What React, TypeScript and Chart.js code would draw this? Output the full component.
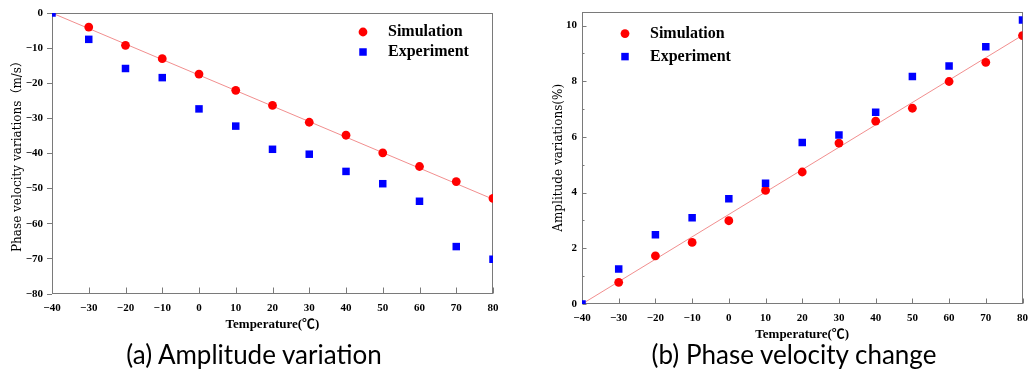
import React, { useEffect, useRef } from 'react';
import { Chart, registerables } from 'chart.js';
Chart.register(...registerables);

// ---- data ----
const temperatures = [-40, -30, -20, -10, 0, 10, 20, 30, 40, 50, 60, 70, 80];
const velocitySimulation = [null, -4, -9.2, -13, -17.4, -22, -26.3, -31.1, -34.8, -39.8, -43.7, -48, -52.8];
const velocityExperiment = [0, -7.5, -15.8, -18.4, -27.3, -32.2, -38.8, -40.2, -45.1, -48.6, -53.6, -66.5, -70.1];
const amplitudeSimulation = [null, 0.78, 1.73, 2.21, 2.99, 4.08, 4.74, 5.78, 6.57, 7.03, 7.99, 8.68, 9.64];
const amplitudeExperiment = [0, 1.26, 2.49, 3.1, 3.78, 4.34, 5.8, 6.07, 6.89, 8.17, 8.55, 9.24, 10.2];
const fitTemperatures = [-40, 80];
const velocityFit = [0, -53];
const amplitudeFit = [0, 9.65];
const amplitudeMinorTicks = [1, 3, 5, 7, 9];
const seriesLabels = ['Experiment', 'Simulation'];
const captions = ['(a) Amplitude variation', '(b) Phase velocity change'];

const SERIF = '"Liberation Serif", "Times New Roman", "Noto Sans CJK SC", serif';
const WIDE_SERIF = '"DejaVu Serif", "Liberation Serif", "Noto Sans CJK SC", serif';
const fmt = (v: number) => (v < 0 ? '\u2212' + Math.abs(v) : String(v));

function pts(xs: number[], ys: (number | null)[]) {
  const out: { x: number; y: number }[] = [];
  xs.forEach((x, i) => {
    const y = ys[i];
    if (y !== null && y !== undefined) out.push({ x, y });
  });
  return out;
}

const framePlugin = {
  id: 'frame',
  beforeDatasetsDraw(chart: any, _args: any, opts: any) {
    const { ctx, chartArea: a, scales } = chart;
    ctx.save();
    ctx.strokeStyle = '#7a7a7a';
    ctx.lineWidth = 1;
    const l = Math.round(a.left) + 0.5, r = Math.round(a.right) - 0.5;
    const t = Math.round(a.top) + 0.5, b = Math.round(a.bottom) - 0.5;
    ctx.strokeRect(l, t, r - l, b - t);
    ctx.beginPath();
    scales.x.ticks.forEach((tk: any) => {
      const px = Math.round(scales.x.getPixelForValue(tk.value)) + 0.5;
      ctx.moveTo(px, b);
      ctx.lineTo(px, b - opts.xTickLen);
    });
    if (opts.yInner) {
      scales.y.ticks.forEach((tk: any) => {
        const py = Math.round(scales.y.getPixelForValue(tk.value)) + 0.5;
        ctx.moveTo(l, py);
        ctx.lineTo(l + opts.yTickLen, py);
      });
      (opts.minor || []).forEach((v: number) => {
        const py = Math.round(scales.y.getPixelForValue(v)) + 0.5;
        ctx.moveTo(l, py);
        ctx.lineTo(l + opts.minorLen, py);
      });
    }
    ctx.stroke();
    ctx.restore();
  },
  afterDatasetsDraw(chart: any, _args: any, opts: any) {
    const { ctx, chartArea: a } = chart;
    const lg = opts.legend;
    ctx.save();
    const items = [chart.data.datasets[1], chart.data.datasets[0]];
    items.forEach((ds: any, i: number) => {
      const y = a.top + lg.dy + i * lg.gap;
      const x = a.left + lg.dx;
      ctx.fillStyle = ds.backgroundColor;
      if (ds.pointStyle === 'rect') {
        const s = ds.pointRadius * Math.SQRT1_2;
        ctx.fillRect(x - s, y - s, 2 * s, 2 * s);
      } else {
        ctx.beginPath();
        ctx.arc(x, y, ds.pointRadius, 0, Math.PI * 2);
        ctx.fill();
      }
      ctx.fillStyle = '#000';
      ctx.font = `bold 16px ${SERIF}`;
      ctx.textBaseline = 'middle';
      ctx.textAlign = 'left';
      ctx.fillText(ds.label, a.left + lg.textDx, y);
    });
    ctx.restore();
  },
};

interface P {
  sim: (number | null)[];
  exp: (number | null)[];
  fit: number[];
  yMin: number;
  yMax: number;
  yStep: number;
  yTitle: string;
  yTitlePad: number;
  yWidth: number;
  xHeight: number;
  xTitlePad: number;
  padTop: number;
  padRight: number;
  yOutside: boolean;
  yLabelPad: number;
  frame: any;
}

function makeConfig(p: P): any {
  const tickFont = { family: SERIF, size: 11, weight: 'bold' as const };
  return {
    type: 'scatter',
    data: {
      datasets: [
        {
          label: seriesLabels[0],
          data: pts(temperatures, p.exp),
          pointStyle: 'rect',
          pointRadius: 5.3,
          pointHoverRadius: 5.3,
          backgroundColor: '#0000ff',
          borderWidth: 0,
          clip: 0,
        },
        {
          label: seriesLabels[1],
          data: pts(temperatures, p.sim),
          pointStyle: 'circle',
          pointRadius: 4.4,
          pointHoverRadius: 4.4,
          backgroundColor: '#ff0000',
          borderWidth: 0,
          clip: 0,
        },
        {
          label: 'fit',
          data: pts(fitTemperatures, p.fit),
          showLine: true,
          borderColor: 'rgba(240,130,130,0.9)',
          borderWidth: 1,
          pointRadius: 0,
          clip: 0,
        },
      ],
    },
    options: {
      responsive: false,
      animation: false,
      devicePixelRatio: 1,
      layout: { padding: { top: p.padTop, right: p.padRight, left: 0, bottom: 0 } },
      plugins: {
        legend: { display: false },
        tooltip: { enabled: false },
        frame: p.frame,
      },
      scales: {
        x: {
          type: 'linear',
          min: -40,
          max: 80,
          ticks: {
            stepSize: 10,
            font: tickFont,
            color: '#000',
            padding: 8,
            maxRotation: 0,
            autoSkip: false,
            callback: (v: number) => fmt(v),
          },
          grid: { display: false, drawTicks: false },
          border: { display: false },
          title: {
            display: true,
            text: 'Temperature(℃)',
            color: '#000',
            font: { family: SERIF, size: 13, weight: 'bold' },
            padding: { top: 0, bottom: p.xTitlePad },
          },
          afterFit: (s: any) => {
            s.height = p.xHeight;
          },
        },
        y: {
          type: 'linear',
          min: p.yMin,
          max: p.yMax,
          ticks: {
            stepSize: p.yStep,
            includeBounds: false,
            font: tickFont,
            color: '#000',
            padding: p.yLabelPad,
            callback: (v: number) => fmt(v),
          },
          grid: p.yOutside
            ? { display: true, drawOnChartArea: false, drawTicks: true, tickLength: 5, color: '#7a7a7a' }
            : { display: false, drawTicks: false },
          border: { display: false },
          title: {
            display: true,
            text: p.yTitle,
            color: '#000',
            font: { family: WIDE_SERIF, size: 12, weight: 'normal' },
            padding: { top: p.yTitlePad, bottom: 0 },
          },
          afterFit: (s: any) => {
            s.width = p.yWidth;
          },
        },
      },
    },
    plugins: [framePlugin],
  };
}

function ChartCanvas({ config, left, width, height }: { config: any; left: number; width: number; height: number }) {
  const ref = useRef<HTMLCanvasElement>(null);
  useEffect(() => {
    if (!ref.current) return;
    const c = new Chart(ref.current, config);
    return () => c.destroy();
  }, []);
  return (
    <canvas
      ref={ref}
      width={width}
      height={height}
      style={{ position: 'absolute', left, top: 0, width, height }}
    />
  );
}

const leftConfig = makeConfig({
  sim: velocitySimulation,
  exp: velocityExperiment,
  fit: velocityFit,
  yMin: -80,
  yMax: 0,
  yStep: 10,
  yTitle: 'Phase velocity variations（m/s）',
  yTitlePad: 11,
  yWidth: 52,
  xHeight: 51,
  xTitlePad: 13,
  padTop: 13,
  padRight: 15,
  yOutside: true,
  yLabelPad: 4,
  frame: { xTickLen: 6, yInner: false, legend: { dx: 311, dy: 19, gap: 20, textDx: 336 } },
});

const rightConfig = makeConfig({
  sim: amplitudeSimulation,
  exp: amplitudeExperiment,
  fit: amplitudeFit,
  yMin: 0,
  yMax: 10.5,
  yStep: 2,
  yTitle: 'Amplitude variations(%)',
  yTitlePad: 24,
  yWidth: 54,
  xHeight: 41,
  xTitlePad: 3,
  padTop: 9,
  padRight: 3,
  yOutside: false,
  yLabelPad: 5,
  frame: {
    xTickLen: 5,
    yInner: true,
    yTickLen: 4,
    minor: amplitudeMinorTicks,
    minorLen: 2,
    legend: { dx: 43, dy: 22, gap: 23, textDx: 68 },
  },
});

export default function App() {
  const capStyle: React.CSSProperties = {
    position: 'absolute',
    width: 400,
    top: 339,
    height: 30,
    lineHeight: '30px',
    textAlign: 'center',
    fontFamily: 'Lato, "Open Sans", sans-serif',
    fontSize: 26,
    color: '#000',
    whiteSpace: 'nowrap',
  };
  return (
    <div style={{ position: 'absolute', left: 0, top: 0, width: 1036, height: 377, background: '#fff', overflow: 'hidden' }}>
      <ChartCanvas config={leftConfig} left={0} width={508} height={345} />
      <ChartCanvas config={rightConfig} left={528} width={508} height={345} />
      <div style={{ ...capStyle, left: 54 }}>{captions[0]}</div>
      <div style={{ ...capStyle, left: 594 }}>{captions[1]}</div>
    </div>
  );
}
